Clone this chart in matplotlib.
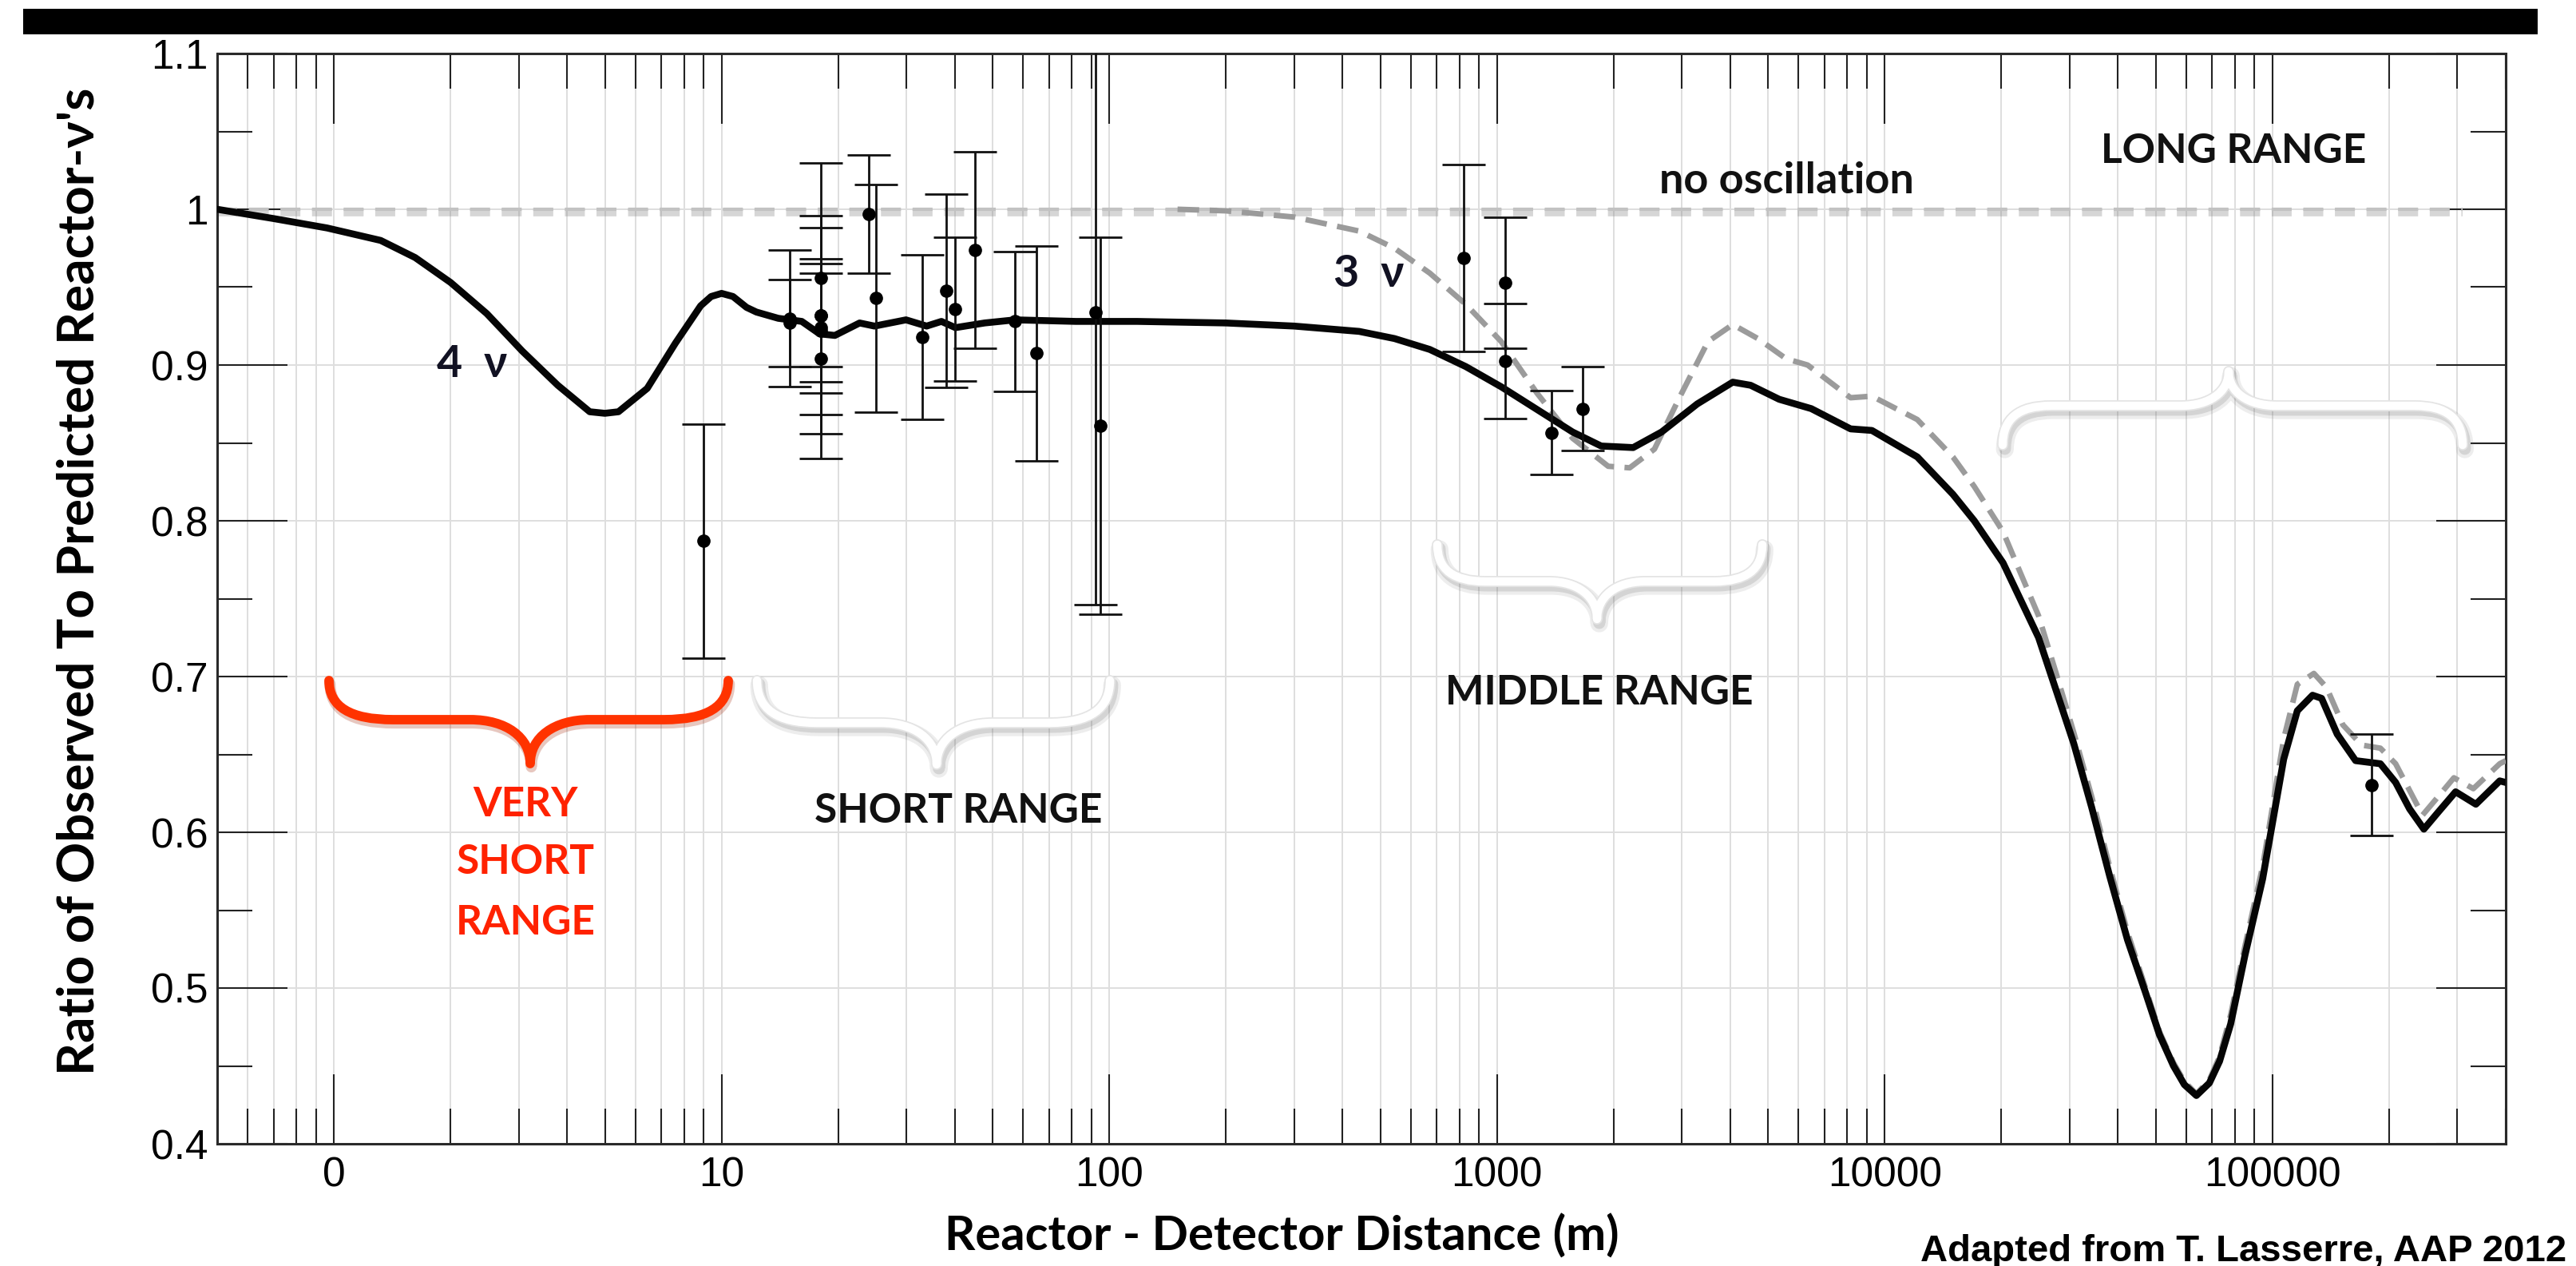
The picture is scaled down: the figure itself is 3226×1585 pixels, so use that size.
import numpy as np
import matplotlib
matplotlib.use("Agg")
import matplotlib.pyplot as plt
from matplotlib.path import Path
from matplotlib.patches import PathPatch, Rectangle
import matplotlib.patheffects as pe
from matplotlib.ticker import LogLocator, MultipleLocator, NullFormatter

# ---------------------------------------------------------------- data
# 4-neutrino oscillation prediction (solid black)
x_4nu = [0.5, 0.7, 0.96, 1.32, 1.62, 2.0, 2.48, 3.06, 3.78, 4.57, 5.0, 5.42,
         6.43, 7.6, 8.83, 9.4, 10.0, 10.7, 11.6, 12.3, 14.0, 16.1, 17.9, 19.6,
         22.7, 24.8, 29.9, 33.8, 36.9, 40.1, 47.7, 57.1, 82, 118, 200, 300, 441,
         544, 671, 831, 1026, 1268, 1567, 1857, 2246, 2659, 3285, 4057, 4511,
         5346, 6467, 8169, 9270, 12140, 15000, 17030, 20200, 24950, 27700,
         30750, 34200, 38050, 42300, 47100, 51150, 55600, 59300, 63700, 68800,
         73100, 78100, 85000, 94400, 107000, 116000, 127000, 134000, 147000,
         164000, 190000, 208000, 226000, 246000, 268000, 297000, 335000,
         386000, 400000]
y_4nu = [1.000, 0.994, 0.988, 0.980, 0.969, 0.953, 0.933, 0.909, 0.887, 0.870,
         0.869, 0.870, 0.885, 0.914, 0.938, 0.944, 0.946, 0.944, 0.937, 0.934,
         0.930, 0.928, 0.920, 0.919, 0.927, 0.925, 0.929, 0.925, 0.928, 0.924,
         0.927, 0.929, 0.928, 0.928, 0.927, 0.925, 0.9216, 0.917, 0.910, 0.899,
         0.886, 0.8715, 0.857, 0.848, 0.847, 0.857, 0.875, 0.889, 0.887, 0.878,
         0.872, 0.859, 0.858, 0.841, 0.817, 0.800, 0.773, 0.725, 0.691, 0.657,
         0.616, 0.572, 0.531, 0.497, 0.470, 0.450, 0.438, 0.431, 0.439, 0.453,
         0.477, 0.521, 0.570, 0.647, 0.678, 0.688, 0.686, 0.663, 0.646, 0.644,
         0.632, 0.615, 0.602, 0.613, 0.626, 0.618, 0.633, 0.632]

# 3-neutrino oscillation prediction (grey dashed)
x_3nu = [150, 200, 300, 441, 544, 671, 831, 1026, 1268, 1567, 1936, 2200, 2548,
         2955, 3501, 4057, 4708, 5574, 6329, 8169, 9270, 12140, 15000, 17030,
         20200, 24950, 27700, 30750, 34200, 38050, 42300, 47100, 51150, 55600,
         59300, 63700, 68800, 73100, 78100, 85000, 94400, 107000, 116000,
         128000, 138000, 152000, 170000, 190000, 208000, 244000, 268000,
         294000, 330000, 386000, 400000]
y_3nu = [1.000, 0.999, 0.995, 0.986, 0.975, 0.959, 0.939, 0.915, 0.882, 0.853,
         0.835, 0.834, 0.846, 0.879, 0.915, 0.926, 0.917, 0.904, 0.900, 0.879,
         0.880, 0.865, 0.841, 0.822, 0.793, 0.739, 0.702, 0.664, 0.623, 0.578,
         0.536, 0.500, 0.472, 0.452, 0.440, 0.432, 0.441, 0.456, 0.483, 0.527,
         0.578, 0.660, 0.695, 0.702, 0.693, 0.669, 0.656, 0.654, 0.644, 0.611,
         0.623, 0.635, 0.628, 0.644, 0.646]

# no-oscillation reference
x_noosc = [0.5, 309000]
y_noosc = [1.0, 1.0]

# reactor experiments: distance (m), ratio, error
exp_x = [9.0, 15, 15, 18, 18, 18, 18, 18, 18, 24, 25, 33, 38, 40, 45, 57, 65,
         92, 95, 820, 1050, 1050, 1380, 1660, 180000]
exp_y = [0.787, 0.930, 0.927, 0.956, 0.932, 0.922, 0.904, 0.932, 0.924, 0.997,
         0.943, 0.918, 0.9475, 0.936, 0.974, 0.928, 0.9075, 0.934, 0.861,
         0.9685, 0.953, 0.9025, 0.8565, 0.872, 0.6305]
exp_err = [0.075, 0.044, 0.028, 0.074, 0.064, 0.066, 0.064, 0.033, 0.035,
           0.038, 0.073, 0.053, 0.062, 0.046, 0.063, 0.045, 0.069, 0.188,
           0.121, 0.060, 0.042, 0.037, 0.027, 0.027, 0.0325]

x_tick_pos = [1, 10, 100, 1000, 10000, 100000]
x_tick_labels = ["0", "10", "100", "1000", "10000", "100000"]
y_tick_pos = [0.4, 0.5, 0.6, 0.7, 0.8, 0.9, 1.0, 1.1]
y_tick_labels = ["0.4", "0.5", "0.6", "0.7", "0.8", "0.9", "1", "1.1"]

# ---------------------------------------------------------------- figure
W, H, DPI = 3226, 1585, 100


def fx(p):
    return p / W


def fy(p):
    return 1.0 - p / H


fig = plt.figure(figsize=(W / DPI, H / DPI), dpi=DPI)
fig.patch.set_facecolor("white")

# black banner across the top
fig.patches.append(Rectangle((fx(29), fy(43)), fx(3178) - fx(29), fy(11) - fy(43),
                             transform=fig.transFigure, facecolor="black",
                             edgecolor="none", zorder=0))

ax = fig.add_axes([fx(272), fy(1432), fx(3138) - fx(272), fy(67) - fy(1432)])
ax.set_xscale("log")
ax.set_xlim(0.5, 4e5)
ax.set_ylim(0.4, 1.1)

ax.set_xticks(x_tick_pos)
ax.set_xticklabels(x_tick_labels)
ax.xaxis.set_minor_locator(LogLocator(base=10, subs=np.arange(2, 10), numticks=100))
ax.xaxis.set_minor_formatter(NullFormatter())
ax.set_yticks(y_tick_pos)
ax.set_yticklabels(y_tick_labels)
ax.yaxis.set_minor_locator(MultipleLocator(0.05))

ax.tick_params(which="both", direction="in", top=True, right=True,
               color="#222222", width=1.5)
ax.tick_params(which="major", length=63)
ax.tick_params(which="minor", length=32)
ax.tick_params(axis="x", which="major", pad=11, labelsize=37)
ax.tick_params(axis="y", which="major", pad=8, labelsize=37)
for lab in ax.get_xticklabels() + ax.get_yticklabels():
    lab.set_fontfamily(["Liberation Sans", "DejaVu Sans"])

for sp in ax.spines.values():
    sp.set_linewidth(2.2)
    sp.set_color("#2a2a2a")

ax.grid(which="both", axis="x", color="#dedede", lw=1.4, zorder=0)
ax.grid(which="major", axis="y", color="#dedede", lw=1.4, zorder=0)
ax.set_axisbelow(True)

# no-oscillation line
ax.plot(x_noosc, y_noosc, color="#c2c2c2", lw=3.0, ls=(0, (6, 3.5)), zorder=2,
        solid_capstyle="butt",
        path_effects=[pe.SimpleLineShadow(offset=(0, -3), shadow_color="#8a8a8a",
                                          alpha=0.35, linewidth=7),
                      pe.Normal()])

# 3 nu and 4 nu predictions
ax.plot(x_3nu, y_3nu, color="#9b9b9b", lw=5.0, ls=(0, (3.9, 1.9)), zorder=3,
        solid_joinstyle="round")
ax.plot(x_4nu, y_4nu, color="#050505", lw=6.2, zorder=4,
        solid_joinstyle="round")

# experimental points
ax.errorbar(exp_x, exp_y, yerr=exp_err, fmt="o", color="black", ms=11,
            ecolor="#111111", elinewidth=2.0, capsize=19.5, capthick=2.0,
            zorder=5)

# ---------------------------------------------------------------- braces


def brace(x0, x1, xm, y_end, y_arm, y_tip, r, r2):
    k = 0.4
    yk = y_arm + k * (y_tip - y_arm)
    pts = [(x0, y_end), (x0, y_arm), (x0 + r, y_arm),
           (xm - r2, y_arm),
           (xm - k * r2, y_arm), (xm, yk), (xm, y_tip),
           (xm, yk), (xm + k * r2, y_arm), (xm + r2, y_arm),
           (x1 - r, y_arm),
           (x1, y_arm), (x1, y_end)]
    codes = [Path.MOVETO, Path.CURVE3, Path.CURVE3,
             Path.LINETO,
             Path.CURVE4, Path.CURVE4, Path.CURVE4,
             Path.CURVE4, Path.CURVE4, Path.CURVE4,
             Path.LINETO,
             Path.CURVE3, Path.CURVE3]
    return Path([(fx(a), fy(b)) for a, b in pts], codes)


shadow_fx = [pe.SimpleLineShadow(offset=(2, -4), shadow_color="#707070",
                                  alpha=0.12, linewidth=16),
             pe.SimpleLineShadow(offset=(2, -3.5), shadow_color="#707070",
                                  alpha=0.2, linewidth=11),
             pe.Stroke(linewidth=10, foreground="#e4e4e4"),
             pe.Normal()]

red = PathPatch(brace(412, 912, 664, 852, 901, 956, 80, 75),
                transform=fig.transFigure, fill=False, edgecolor="#ff3300",
                lw=8.5, capstyle="round", joinstyle="round", zorder=6,
                path_effects=[pe.SimpleLineShadow(offset=(1, -3), shadow_color="#a02000",
                                                  alpha=0.25, linewidth=10),
                              pe.Normal()])
fig.patches.append(red)

for args in [(948, 1390, 1173, 852, 905, 957, 75, 70),
             (1800, 2207, 2000, 682, 728, 775, 60, 60),
             (2508, 3084, 2791, 557, 508, 465, 60, 60)]:
    fig.patches.append(PathPatch(brace(*args), transform=fig.transFigure,
                                 fill=False, edgecolor="white", lw=7.5,
                                 capstyle="round", joinstyle="round", zorder=6,
                                 path_effects=shadow_fx))

# ---------------------------------------------------------------- texts
comic = ["Lato", "DejaVu Sans"]
txt = dict(fontfamily=comic, fontweight="bold", ha="center", va="center",
           transform=fig.transFigure)

fig.text(fx(2237), fy(226), "no oscillation", fontsize=39, color="#111111", **txt)
fig.text(fx(2797), fy(190), "LONG RANGE", fontsize=37, color="#111111", **txt)
fig.text(fx(2003), fy(868), "MIDDLE RANGE", fontsize=37, color="#111111", **txt)
fig.text(fx(1200), fy(1015), "SHORT RANGE", fontsize=37, color="#111111", **txt)
for line, yy in [("VERY", 1007), ("SHORT", 1080), ("RANGE", 1155)]:
    fig.text(fx(658), fy(yy), line, fontsize=37, color="#ff2200", **txt)
fig.text(fx(591), fy(456), "4  \u03bd", fontsize=40, color="#111122", **txt)
fig.text(fx(1714), fy(343), "3  \u03bd", fontsize=40, color="#111122", **txt)

fig.text(fx(99), fy(728), "Ratio of Observed To Predicted Reactor-\u03bd's",
         rotation=90, fontsize=46, color="black", **txt)
fig.text(fx(1605), fy(1548), "Reactor - Detector Distance (m)",
         fontsize=43, color="black", **txt)

fig.text(fx(3214), fy(1579), "Adapted from T. Lasserre, AAP 2012",
         fontfamily=["Liberation Sans", "DejaVu Sans"], fontweight="bold",
         fontsize=34, ha="right", va="baseline", color="black")

fig.savefig("out.png", dpi=DPI, facecolor="white")
